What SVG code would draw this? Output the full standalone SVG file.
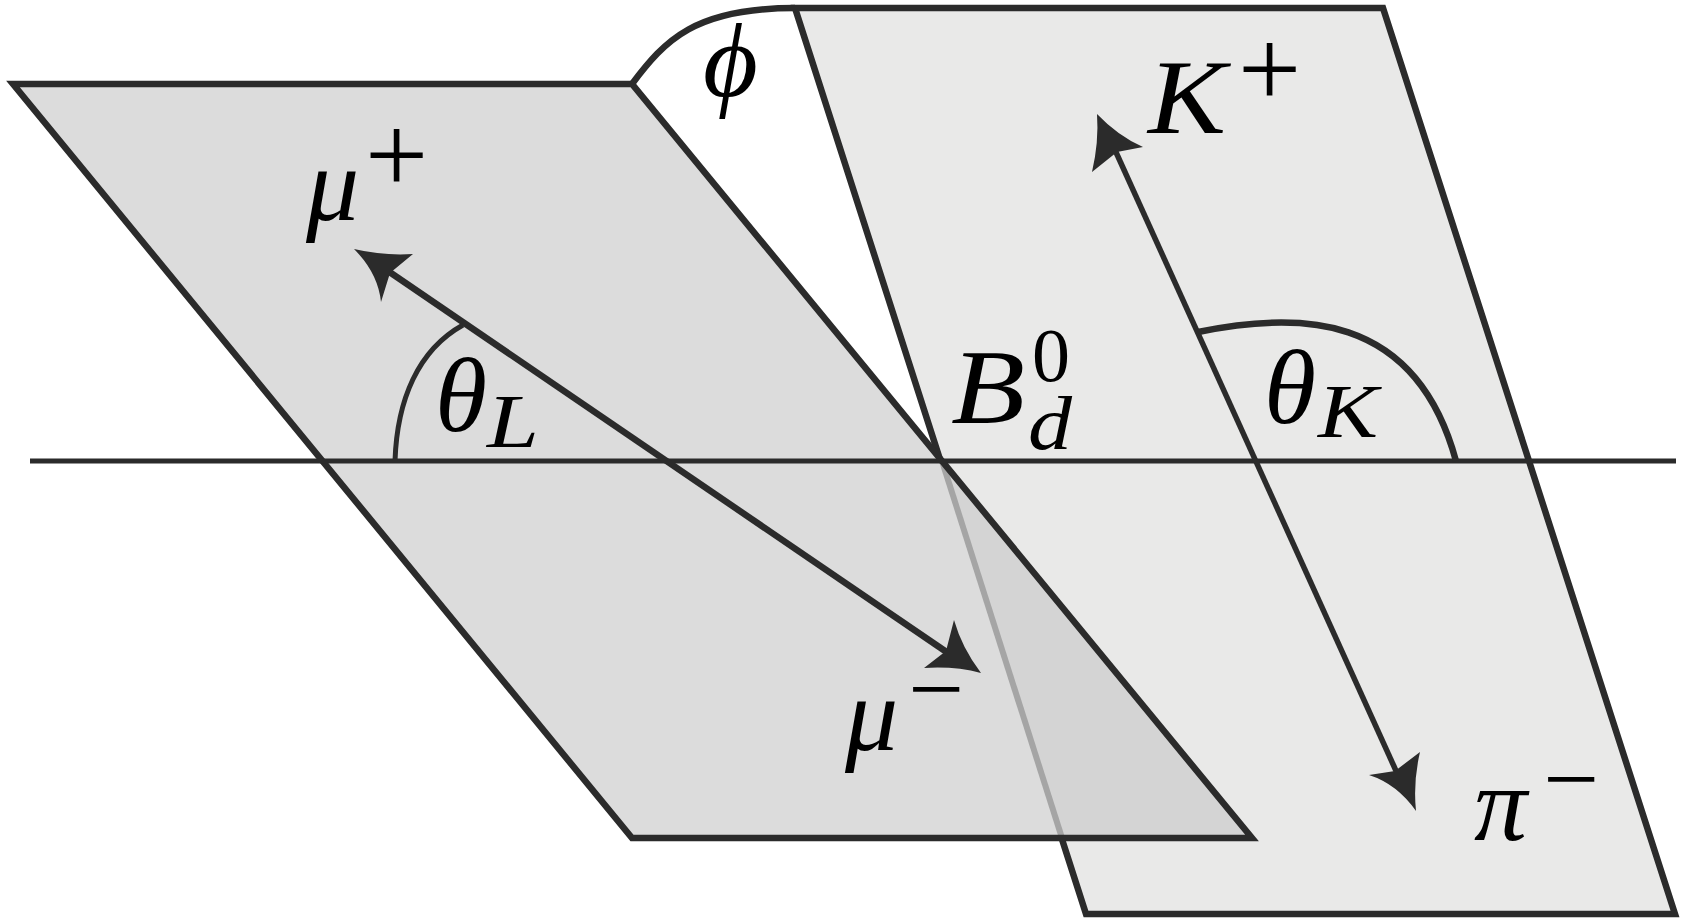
<svg xmlns="http://www.w3.org/2000/svg" width="1686" height="922" viewBox="0 0 1686 922">
<style>
.edge{fill:none;stroke:#2b2b2b;stroke-width:6.5;stroke-linejoin:miter}
.mid{fill:none;stroke:#2b2b2b;stroke-width:5.5}
.thin{fill:none;stroke:#2b2b2b;stroke-width:5}
.head{fill:#2b2b2b;stroke:none}
text{font-family:"Liberation Serif","Times New Roman",serif;fill:#000}
.i{font-style:italic}
.b{font-size:106px}
.s{font-size:76px}
.p{font-size:112px}
.m{font-size:96px}
</style>
<rect width="1686" height="922" fill="#fff"/>
<g id="plane-kpi">
<polygon points="795,8 1383,8 1675,914 1086,914" class="edge" style="fill:#e9e9e8"/>
</g>
<g id="plane-mumu">
<polygon points="13,84 632,84 1252,838 632,838" style="fill:#dcdcdc;stroke:none"/>
<polygon points="942,461 1252,838 1062,838" style="fill:#d4d4d4;stroke:none"/>
<line x1="942" y1="461" x2="1062" y2="838" style="stroke:#a5a5a5;stroke-width:6"/>
<polygon points="13,84 632,84 1252,838 632,838" class="edge"/>
</g>
<g id="connectors">
<path id="phi-arc" class="edge" d="M632 84C665 40 695 8 795 8"/>
<line id="axis" x1="30" y1="461" x2="1676" y2="461" class="thin"/>
<line id="mu-axis" x1="388" y1="271" x2="948" y2="653" class="edge"/>
<line id="k-axis" x1="1115" y1="150" x2="1397" y2="773" class="mid"/>
<path id="theta-l-arc" class="thin" d="M395 461C397 400 418 350 463 325"/>
<path id="theta-k-arc" class="edge" d="M1198 332C1296 312 1415 310 1456 461"/>
<path id="head-mu-plus" class="head" d="M354 249Q384 256 413 254L390 273L381 302Q378 273 354 249Z"/>
<path id="head-mu-minus" class="head" d="M981 673Q962 648 954 620L946 651L924 668Q955 666 981 673Z"/>
<path id="head-k" class="head" d="M1097 114Q1118 136 1143 147L1117 152L1092 172Q1099 142 1097 114Z"/>
<path id="head-pi" class="head" d="M1416 811Q1397 784 1369 775L1395 771L1420 752Q1413 782 1416 811Z"/>
</g>
<g id="label-phi"><text class="i b" x="703" y="96">ϕ</text></g>
<g id="label-mu-plus"><text class="i b" x="306" y="220">μ</text><text class="p" x="365" y="193">+</text></g>
<g id="label-theta-l"><text class="i b" x="435" y="431">θ</text><text class="i s" x="487" y="447" textLength="52" lengthAdjust="spacingAndGlyphs">L</text></g>
<g id="label-b"><text class="i b" x="951" y="423" textLength="74" lengthAdjust="spacingAndGlyphs">B</text><text class="s" x="1032" y="381">0</text><text class="i s" x="1028" y="449" textLength="44" lengthAdjust="spacingAndGlyphs">d</text></g>
<g id="label-k-plus"><text class="i b" x="1148" y="133" textLength="78" lengthAdjust="spacingAndGlyphs">K</text><text class="p" x="1238" y="107">+</text></g>
<g id="label-theta-k"><text class="i b" x="1264" y="423">θ</text><text class="i s" x="1318" y="437" textLength="60" lengthAdjust="spacingAndGlyphs">K</text></g>
<g id="label-mu-minus"><text class="i b" x="845" y="750">μ</text><text class="m" x="908" y="721" textLength="56" lengthAdjust="spacingAndGlyphs">−</text></g>
<g id="label-pi-minus"><text class="i b" x="1474" y="840">π</text><text class="m" x="1543" y="811" textLength="56" lengthAdjust="spacingAndGlyphs">−</text></g>
</svg>
